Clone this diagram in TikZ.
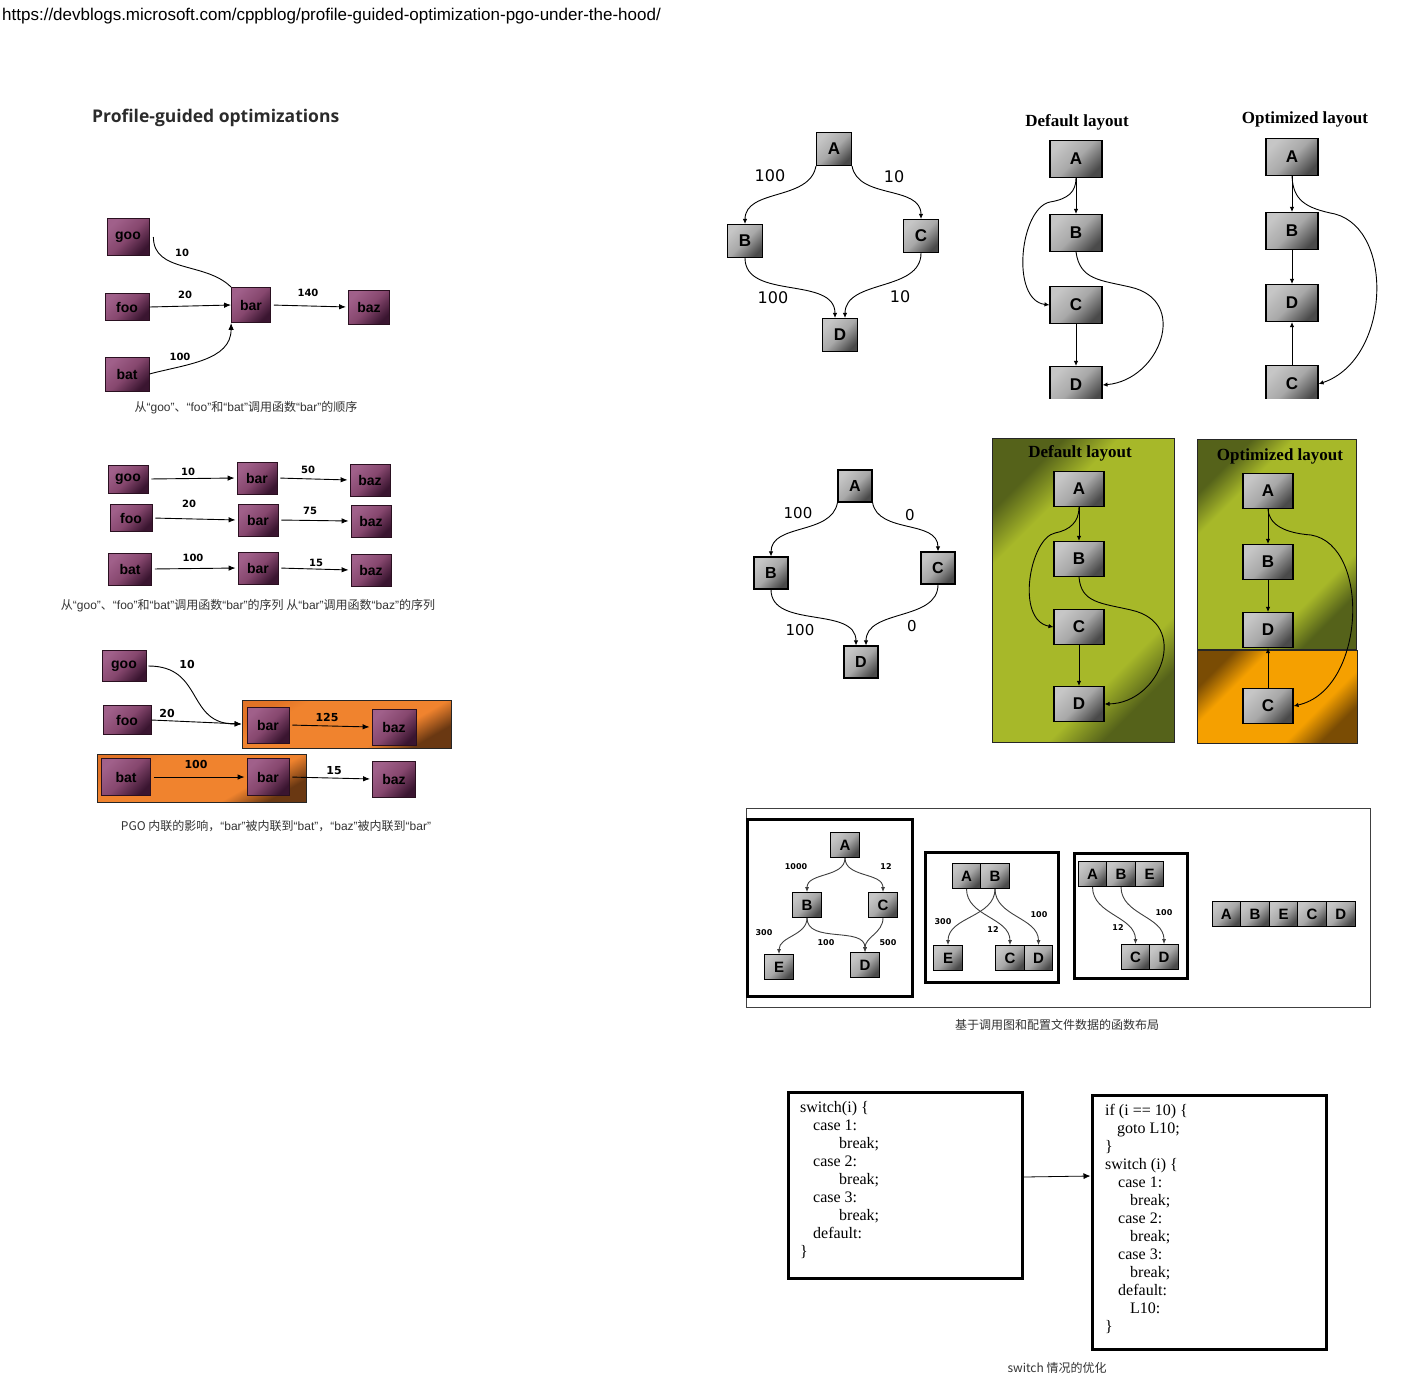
\documentclass[tikz,border=0pt]{standalone}
\usepackage{fontspec}
\setmainfont{Liberation Serif}
\setsansfont{Liberation Sans}
\newfontfamily\numfont{DejaVu Sans}
\newfontfamily\headfont{Open Sans}
\newfontfamily\cjk{Noto Sans CJK SC}
\usepackage{tikz}
\usetikzlibrary{arrows.meta,positioning,calc}
\definecolor{Ink}{HTML}{2B2B2B}
\definecolor{Caption}{HTML}{333333}
\definecolor{PlumLight}{HTML}{A0608A}
\definecolor{PlumMid}{HTML}{86476E}
\definecolor{PlumDark}{HTML}{3A1530}
\definecolor{PlumEdge}{HTML}{2A1020}
\definecolor{GreyLight}{HTML}{C6C6C6}
\definecolor{GreyMid}{HTML}{A8A8A8}
\definecolor{GreyDark}{HTML}{4A4A4A}
\definecolor{OrangeMid}{HTML}{F0832E}
\definecolor{OrangeTop}{HTML}{E27426}
\definecolor{OrangeDark}{HTML}{6A3812}
\definecolor{OliveMid}{HTML}{A7B829}
\definecolor{OliveDark}{HTML}{55621A}
\definecolor{AmberMid}{HTML}{F5A000}
\definecolor{AmberDark}{HTML}{7A4C04}
\definecolor{ArrowGrey}{HTML}{404040}
\pgfdeclareverticalshading{olivefade}{100bp}{color(0bp)=(OliveDark); color(25bp)=(OliveDark);
  color(33bp)=(OliveMid); color(67bp)=(OliveMid); color(75bp)=(OliveDark); color(100bp)=(OliveDark)}
\pgfdeclareverticalshading{amberfade}{100bp}{color(0bp)=(AmberDark); color(25bp)=(AmberDark);
  color(35bp)=(AmberMid); color(65bp)=(AmberMid); color(75bp)=(AmberDark); color(100bp)=(AmberDark)}
\pgfdeclareverticalshading{orangefade}{100bp}{color(0bp)=(OrangeDark); color(25bp)=(OrangeDark);
  color(36bp)=(OrangeMid); color(68bp)=(OrangeMid); color(75bp)=(OrangeTop); color(100bp)=(OrangeTop)}
\newcommand\qt[1]{{\sffamily“#1”}}

\begin{document}
\begin{tikzpicture}[
  x=1pt, y=1pt,
  fn/.style={draw=PlumEdge,line width=.8pt,top color=PlumLight,bottom color=PlumDark,
    middle color=PlumMid,shading angle=45,inner sep=0pt,minimum width=40pt,minimum height=32pt,
    font=\sffamily\bfseries\fontsize{14}{14}\selectfont},
  fnlbl/.style={font=\numfont\bfseries\fontsize{10}{10}\selectfont,inner sep=0pt},
  link/.style={line width=.9pt,draw=black},
  arr/.style={link,-{Latex[length=7pt,width=5.5pt]}},
  gap/.style={shorten <=3pt,shorten >=2pt},
  blk/.style={draw=black,line width=1.1pt,top color=GreyLight,bottom color=GreyDark,
    middle color=GreyMid,shading angle=45,inner sep=0pt,minimum width=35pt,minimum height=33pt,
    font=\sffamily\bfseries\fontsize{17}{17}\selectfont},
  lay/.style={blk,minimum width=52pt,minimum height=37pt},
  cell/.style={blk,line width=.7pt,minimum width=28.6pt,minimum height=25pt,
    font=\sffamily\bfseries\fontsize{15}{15}\selectfont},
  garr/.style={line width=.9pt,-{Latex[length=5pt,width=4.5pt]}},
  warr/.style={line width=.9pt,draw=ArrowGrey,-{Latex[length=5pt,width=4pt]}},
  wlbl/.style={font=\numfont\fontsize{16}{16}\selectfont,inner sep=0pt},
  tinylbl/.style={font=\numfont\bfseries\fontsize{8}{8}\selectfont,inner sep=0pt},
  lyt/.style={font=\bfseries\fontsize{17}{17}\selectfont,inner sep=0pt},
  captxt/.style={font=\cjk\fontsize{12}{14}\selectfont,text=Caption,inner sep=0pt},
  olivebox/.style={draw=black!85,line width=.8pt,shade,shading=olivefade,shading angle=45,inner sep=0pt},
  amberbox/.style={draw=black!85,line width=.8pt,shade,shading=amberfade,shading angle=45,inner sep=0pt},
  inl/.style={draw=black!85,line width=.8pt,shade,shading=orangefade,shading angle=30,inner sep=0pt,
    minimum width=209pt,minimum height=48pt},
  heavybox/.style={draw=black,line width=3pt,inner sep=0pt},
  codetxt/.style={font=\fontsize{16}{18}\selectfont,align=left,inner sep=0pt,anchor=north west}
]
\fill[white] (0,0) rectangle (1404,-1376);
\useasboundingbox (0,0) rectangle (1404,-1376);

\node[anchor=west,inner sep=0pt,font=\sffamily\fontsize{17}{17}\selectfont] (url) at (2,-16)
  {https://devblogs.microsoft.com/cppblog/profile-guided-optimization-pgo-under-the-hood/};
\node[anchor=west,inner sep=0pt,text=Ink,font=\headfont\bfseries\fontsize{17.5}{17.5}\selectfont] (title) at (92,-118)
  {Profile-guided optimizations};

% call counts into bar
\node[fn,minimum width=42pt,minimum height=37pt] (goo) at (128,-237) {goo};
\node[fn,minimum width=44pt,minimum height=27pt] (foo) at (127,-307) {foo};
\node[fn,minimum width=44pt,minimum height=34pt] (bat) at (127,-374) {bat};
\node[fn,minimum width=39pt,minimum height=35pt] (bar) at (251,-305) {bar};
\node[fn,minimum width=41pt,minimum height=34pt] (baz) at (369,-307) {baz};
\draw[link] ([xshift=4pt]goo.east) to[out=-90,in=135] (bar.north west);
\draw[arr] (foo.east) -- (bar.west);
\draw[arr] (bat.east) to[out=15,in=-90] (bar.south west);
\draw[arr,gap] (bar.east) -- (baz.west);
\node[fnlbl] (wgoo) at (182,-253) {10};
\node[fnlbl] (wfoo) at (185,-295) {20};
\node[fnlbl] (wbat) at (180,-357) {100};
\node[fnlbl] (wbar) at (308,-293) {140};
\node[captxt] (cap1) at (246,-408) {从\qt{goo}、\qt{foo}和\qt{bat}调用函数\qt{bar}的顺序};

% call sequences
\node[fn,minimum height=28pt] (sgoo) at (128,-479) {goo};
\node[fn] (sbarA) at (257,-478) {bar};
\node[fn] (sbazA) at (370,-480) {baz};
\node[fn,minimum width=42pt,minimum height=27pt] (sfoo) at (131,-518) {foo};
\node[fn] (sbarB) at (258,-520) {bar};
\node[fn] (sbazB) at (371,-521) {baz};
\node[fn,minimum width=43pt] (sbat) at (130,-569) {bat};
\node[fn] (sbarC) at (258,-568) {bar};
\node[fn] (sbazC) at (371,-570) {baz};
\draw[arr,gap] (sgoo.east) -- (sbarA.west);
\draw[arr,gap] (sbarA.east) -- (sbazA.west);
\draw[arr,gap] (sfoo.east) -- (sbarB.west);
\draw[arr,gap] (sbarB.east) -- (sbazB.west);
\draw[arr,gap] (sbat.east) -- (sbarC.west);
\draw[arr,gap] (sbarC.east) -- (sbazC.west);
\node[fnlbl] (wsgoo) at (188,-472) {10};
\node[fnlbl] (wsbarA) at (308,-470) {50};
\node[fnlbl] (wsfoo) at (189,-504) {20};
\node[fnlbl] (wsbarB) at (310,-511) {75};
\node[fnlbl] (wsbat) at (193,-558) {100};
\node[fnlbl] (wsbarC) at (316,-563) {15};
\node[captxt] (cap2) at (248,-606) {从\qt{goo}、\qt{foo}和\qt{bat}调用函数\qt{bar}的序列 从\qt{bar}调用函数\qt{baz}的序列};

% inlining
\node[inl] (inlA) at (346.5,-724) {};
\node[inl] (inlB) at (201.5,-778) {};
\node[fn,minimum width=44pt,minimum height=31pt] (igoo) at (124,-666) {goo};
\node[fn,minimum width=48pt,minimum height=29pt] (ifoo) at (127,-720) {foo};
\node[fn,minimum width=42pt,minimum height=36pt] (ibarA) at (268,-725) {bar};
\node[fn,minimum width=44pt,minimum height=36pt] (ibazA) at (394,-727) {baz};
\node[fn,minimum width=49pt,minimum height=37pt] (ibat) at (126,-777) {bat};
\node[fn,minimum width=42pt,minimum height=37pt] (ibarB) at (268,-777) {bar};
\node[fn,minimum width=43pt,minimum height=36pt] (ibazB) at (394,-779) {baz};
\draw[arr] ([xshift=2pt]igoo.east) to[out=0,in=180,looseness=1.3] (inlA.west);
\draw[arr] (ifoo.east) -- (inlA.west);
\draw[arr,gap] (ibarA.east) -- (ibazA.west);
\draw[arr,gap] (ibat.east) -- (ibarB.west);
\draw[arr,gap] (ibarB.east) -- (ibazB.west);
\node[fnlbl,font=\numfont\bfseries\fontsize{11}{11}\selectfont] (wigoo) at (187,-664) {10};
\node[fnlbl,font=\numfont\bfseries\fontsize{11}{11}\selectfont] (wifoo) at (167,-713) {20};
\node[fnlbl,font=\numfont\bfseries\fontsize{11}{11}\selectfont] (wibarA) at (327,-717) {125};
\node[fnlbl,font=\numfont\bfseries\fontsize{11}{11}\selectfont] (wibat) at (196,-764) {100};
\node[fnlbl,font=\numfont\bfseries\fontsize{11}{11}\selectfont] (wibarB) at (334,-771) {15};
\node[captxt] (cap3) at (276,-826) {PGO 内联的影响，\qt{bar}被内联到\qt{bat}，\qt{baz}被内联到\qt{bar}};

% basic block graph, counts 100/10
\node[blk] (dA) at (834,-149) {A};
\node[blk] (dB) at (745,-241) {B};
\node[blk] (dC) at (921,-236) {C};
\node[blk] (dD) at (840,-335) {D};
\draw[garr] (dA.south west) to[out=-100,in=90] (dB.north);
\draw[garr] (dA.south east) to[out=-80,in=90] (dC.north);
\draw[garr] (dB.south) to[out=-90,in=90] ([xshift=-5pt]dD.north);
\draw[garr] (dC.south) to[out=-90,in=90] ([xshift=5pt]dD.north);
\node[wlbl] (wdAB) at (770,-176) {100};
\node[wlbl] (wdAC) at (894,-177) {10};
\node[wlbl] (wdBD) at (773,-298) {100};
\node[wlbl] (wdCD) at (900,-297) {10};

\node[lyt] (tdtitle) at (1077,-122) {Default layout};
\node[lyt] (totitle) at (1305,-119) {Optimized layout};
\begin{scope}
\clip (990,-95) rectangle (1404,-398);
\node[lay] (tdA) at (1076,-159) {A};
\node[lay] (tdB) at (1076,-233) {B};
\node[lay] (tdC) at (1076,-305) {C};
\node[lay] (tdD) at (1076,-385) {D};
\draw[garr] (tdA) -- (tdB);
\draw[garr] (tdC) -- (tdD);
\draw[garr] (tdA.south) .. controls (1076,-192) and (1068,-199) .. (1050,-202)
  .. controls (1020,-208) and (1010,-300) .. (tdC.west);
\draw[garr] (tdB.south) .. controls (1080,-280) and (1100,-280) .. (1130,-287)
  .. controls (1190,-300) and (1160,-380) .. (tdD.east);
\node[lay] (toA) at (1292,-157) {A};
\node[lay] (toB) at (1292,-231) {B};
\node[lay] (toD) at (1292,-303) {D};
\node[lay] (toC) at (1292,-384) {C};
\draw[garr] (toA) -- (toB);
\draw[garr] (toB) -- (toD);
\draw[garr] (toC) -- (toD);
\draw[garr] (toA.south) .. controls (1293,-200) and (1305,-208) .. (1335,-214)
  .. controls (1395,-230) and (1390,-360) .. (toC.east);
\end{scope}

% basic block graph, counts 100/0
\node[blk,minimum width=34pt,minimum height=32pt,font=\sffamily\bfseries\fontsize{16}{16}\selectfont] (mA) at (855,-486) {A};
\node[blk,minimum width=34pt,minimum height=32pt,font=\sffamily\bfseries\fontsize{16}{16}\selectfont] (mB) at (771,-573) {B};
\node[blk,minimum width=34pt,minimum height=32pt,font=\sffamily\bfseries\fontsize{16}{16}\selectfont] (mC) at (938,-568) {C};
\node[blk,minimum width=34pt,minimum height=32pt,font=\sffamily\bfseries\fontsize{16}{16}\selectfont] (mD) at (861,-662) {D};
\draw[garr] (mA.south west) to[out=-100,in=90] (mB.north);
\draw[garr] (mA.south east) to[out=-80,in=90] (mC.north);
\draw[garr] (mB.south) to[out=-90,in=90] ([xshift=-5pt]mD.north);
\draw[garr] (mC.south) to[out=-90,in=90] ([xshift=5pt]mD.north);
\node[wlbl,font=\numfont\fontsize{15}{15}\selectfont] (wmAB) at (798,-513) {100};
\node[wlbl,font=\numfont\fontsize{15}{15}\selectfont] (wmAC) at (910,-515) {0};
\node[wlbl,font=\numfont\fontsize{15}{15}\selectfont] (wmBD) at (800,-630) {100};
\node[wlbl,font=\numfont\fontsize{15}{15}\selectfont] (wmCD) at (912,-626) {0};

\node[olivebox,minimum width=182pt,minimum height=304pt] (gdef) at (1083,-590) {};
\node[olivebox,minimum width=159pt,minimum height=210pt] (gopt) at (1276.5,-544) {};
\node[amberbox,minimum width=160pt,minimum height=93pt] (gcold) at (1277,-696.5) {};
\node[lyt] (gdtitle) at (1080,-453) {Default layout};
\node[lyt] (gotitle) at (1280,-456) {Optimized layout};
\node[lay,minimum width=50pt,minimum height=35pt] (gA) at (1079,-489) {A};
\node[lay,minimum width=50pt,minimum height=35pt] (gB) at (1079,-559) {B};
\node[lay,minimum width=50pt,minimum height=35pt] (gC) at (1079,-627) {C};
\node[lay,minimum width=50pt,minimum height=35pt] (gD) at (1079,-704) {D};
\draw[garr] (gA) -- (gB);
\draw[garr] (gC) -- (gD);
\draw[garr] (gA.south) .. controls (1079,-522) and (1070,-530) .. (1055,-533)
  .. controls (1030,-538) and (1015,-620) .. (gC.west);
\draw[garr] (gB.south) .. controls (1081,-603) and (1101,-603) .. (1131,-610)
  .. controls (1191,-623) and (1161,-703) .. (gD.east);
\node[lay,minimum width=50pt,minimum height=35pt] (oA) at (1268,-491) {A};
\node[lay,minimum width=50pt,minimum height=35pt] (oB) at (1268,-562) {B};
\node[lay,minimum width=50pt,minimum height=35pt] (oD) at (1268,-630) {D};
\node[lay,minimum width=50pt,minimum height=35pt] (oC) at (1268,-706) {C};
\draw[garr] (oA) -- (oB);
\draw[garr] (oB) -- (oD);
\draw[garr] (oC) -- (oD);
\draw[garr] (oA.south) .. controls (1269,-525) and (1285,-533) .. (1311,-535)
  .. controls (1371,-545) and (1366,-690) .. (oC.east);

% call graph function layout
\node[draw=black!75,line width=.8pt,inner sep=0pt,minimum width=624pt,minimum height=199pt] (panel) at (1058,-907.5) {};
\node[heavybox,minimum width=165pt,minimum height=177pt] (stageA) at (829.5,-907.5) {};
\node[heavybox,minimum width=133pt,minimum height=130pt] (stageB) at (991.5,-917) {};
\node[heavybox,minimum width=113pt,minimum height=125pt] (stageC) at (1130.5,-915.5) {};
\node[cell] (bA) at (845,-845) {A};
\node[cell] (bB) at (807,-905) {B};
\node[cell] (bC) at (883,-905) {C};
\node[cell] (bE) at (779,-967) {E};
\node[cell] (bD) at (865,-965) {D};
\draw[warr] (bA.south) to[out=-90,in=90] (bB.north);
\draw[warr] (bA.south) to[out=-90,in=90] (bC.north);
\draw[warr] (bB.south) to[out=-90,in=90] (bE.north);
\draw[warr] (bB.south) to[out=-90,in=90] (bD.north);
\draw[warr] (bC.south) to[out=-90,in=90] (bD.north);
\node[tinylbl] (wbAB) at (796,-867) {1000};
\node[tinylbl] (wbAC) at (886,-867) {12};
\node[tinylbl] (wbBE) at (764,-933) {300};
\node[tinylbl] (wbBD) at (826,-943) {100};
\node[tinylbl] (wbCD) at (888,-943) {500};

\node[cell] (cA) at (966.5,-876) {A};
\node[cell] (cB) at (995,-876) {B};
\node[cell] (cE) at (948,-958) {E};
\node[cell] (cC) at (1010,-958) {C};
\node[cell] (cD) at (1038.5,-958) {D};
\draw[warr] (cA.south) to[out=-90,in=90] (cC.north);
\draw[warr] (cB.south) to[out=-90,in=90] (cE.north);
\draw[warr] (cB.south) to[out=-90,in=90] (cD.north);
\node[tinylbl] (wcBE) at (943,-922) {300};
\node[tinylbl] (wcAC) at (993,-930) {12};
\node[tinylbl] (wcBD) at (1039,-915) {100};

\node[cell] (eA) at (1092.5,-874) {A};
\node[cell] (eB) at (1121,-874) {B};
\node[cell] (eE) at (1149.5,-874) {E};
\node[cell] (eC) at (1135.5,-957) {C};
\node[cell] (eD) at (1164,-957) {D};
\draw[warr] (eA.south) to[out=-90,in=90] (eC.north);
\draw[warr] (eB.south) to[out=-90,in=90] (eD.north);
\node[tinylbl] (weAC) at (1118,-928) {12};
\node[tinylbl] (weBD) at (1164,-913) {100};

\foreach \t [count=\i] in {A,B,E,C,D}
  \node[cell] (r\t) at (1197.7+28.6*\i,-914) {\t};
\node[captxt] (cap4) at (1057,-1025) {基于调用图和配置文件数据的函数布局};

% switch optimisation
\node[heavybox,minimum width=234pt,minimum height=186pt] (before) at (905,-1185) {};
\node[heavybox,minimum width=234pt,minimum height=254pt] (after) at (1209,-1222) {};
\draw[line width=.8pt,-{Latex[length=7pt,width=6pt]}] ([yshift=8pt]before.east) -- ([yshift=46pt]after.west);
\node[codetxt] (beforetxt) at (800,-1101) {switch(i) \{\\
  \hspace*{13pt}case 1:\\ \hspace*{39pt}break;\\
  \hspace*{13pt}case 2:\\ \hspace*{39pt}break;\\
  \hspace*{13pt}case 3:\\ \hspace*{39pt}break;\\
  \hspace*{13pt}default:\\ \}};
\node[codetxt] (aftertxt) at (1105,-1104) {if (i == 10) \{\\
  \hspace*{12pt}goto L10;\\ \}\\ switch (i) \{\\
  \hspace*{13pt}case 1:\\ \hspace*{25pt}break;\\
  \hspace*{13pt}case 2:\\ \hspace*{25pt}break;\\
  \hspace*{13pt}case 3:\\ \hspace*{25pt}break;\\
  \hspace*{13pt}default:\\ \hspace*{25pt}L10:\\ \}};
\node[captxt] (cap5) at (1057,-1368) {switch 情况的优化};
\end{tikzpicture}
\end{document}
